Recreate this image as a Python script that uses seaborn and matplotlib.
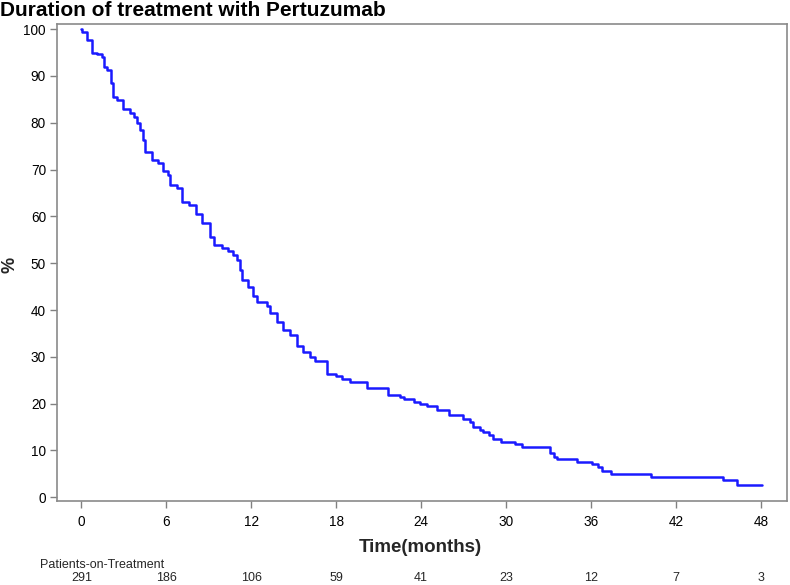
import matplotlib
matplotlib.use("Agg")
import matplotlib.pyplot as plt
import matplotlib.transforms as mtransforms
import seaborn as sns
import pandas as pd

# ---- data ----
times = [0, 0.05, 0.43, 0.73, 1.09, 1.44, 1.62, 1.79, 2.08, 2.2, 2.5, 2.97, 3.44,
         3.72, 3.91, 4.15, 4.34, 4.5, 4.97, 5.44, 5.79, 6.14, 6.26, 6.74, 7.09,
         7.6, 8.1, 8.55, 9.09, 9.37, 9.91, 10.38, 10.73, 10.97, 11.21, 11.33,
         11.79, 12.1, 12.39, 13.09, 13.33, 13.8, 14.27, 14.74, 15.21, 15.68,
         16.15, 16.5, 17.37, 17.99, 18.39, 18.97, 20.2, 21.64, 22.51, 22.8,
         23.5, 23.92, 24.44, 25.14, 25.99, 26.98, 27.45, 27.68, 28.16, 28.39,
         28.81, 29.1, 29.62, 30.63, 31.1, 33.1, 33.35, 33.6, 34.98, 36.1, 36.51,
         36.75, 37.4, 40.2, 45.3, 46.3, 48.05]
percent = [100, 99.4, 97.7, 94.9, 94.6, 94.0, 92.0, 91.3, 88.5, 85.5, 84.9, 82.9,
           82.0, 81.3, 79.9, 78.5, 76.3, 73.8, 72.0, 71.4, 69.6, 68.9, 66.7, 66.0,
           63.1, 62.4, 60.5, 58.5, 55.7, 53.9, 53.2, 52.5, 51.8, 50.7, 48.6, 46.4,
           45.0, 42.9, 41.8, 40.9, 39.3, 37.5, 35.7, 34.7, 32.4, 31.0, 29.9, 29.1,
           26.3, 25.9, 25.2, 24.7, 23.3, 21.9, 21.4, 20.9, 20.4, 19.9, 19.5, 18.7,
           17.5, 16.7, 16.0, 15.1, 14.4, 13.9, 13.3, 12.5, 11.9, 11.4, 10.8, 9.5,
           8.7, 8.2, 7.6, 7.1, 6.4, 5.7, 5.0, 4.4, 3.7, 2.6, 2.6]
xticks = [0, 6, 12, 18, 24, 30, 36, 42, 48]
yticks = [0, 10, 20, 30, 40, 50, 60, 70, 80, 90, 100]
at_risk = [291, 186, 106, 59, 41, 23, 12, 7, 3]

title = "Duration of treatment with Pertuzumab"
xlabel = "Time(months)"
ylabel = "%"
risk_label = "Patients-on-Treatment"

df = pd.DataFrame({"time": times, "pct": percent})

sns.set_theme(style="white")
plt.rcParams["font.family"] = ["Liberation Sans", "DejaVu Sans"]

W, H = 790, 585
fig = plt.figure(figsize=(W / 100, H / 100), dpi=100)
ax = fig.add_axes([57 / W, 1 - 501 / H, (787.3 - 57) / W, (501 - 24) / H])

sns.lineplot(data=df, x="time", y="pct", ax=ax, color="#1a1aff",
             linewidth=1.8, drawstyle="steps-post", estimator=None, sort=False)

ax.set_xlim(-1.72, 49.86)
ax.set_ylim(-0.8, 101.1)
ax.set_xticks(xticks)
ax.set_yticks(yticks)
ax.set_xticklabels([str(v) for v in xticks], fontsize=9.8, color="black")
ax.set_yticklabels([str(v) for v in yticks], fontsize=9.8, color="black")
ax.tick_params(axis="both", direction="out", length=5, width=1,
               color="#808080")
ax.tick_params(axis="x", bottom=True, pad=5)
ax.tick_params(axis="y", left=True, pad=3)
for s in ax.spines.values():
    s.set_color("#8a8a8a")
    s.set_linewidth(1.2)
    s.set_visible(True)

ax.set_xlabel("")
ax.set_ylabel("")

fig.text(0 / W, 1 - 11 / H, title, fontsize=15, fontweight="bold",
         ha="left", va="center", color="black")
fig.text(10 / W, 1 - 265 / H, ylabel, fontsize=13, fontweight="bold",
         rotation=90, ha="center", va="center")
fig.text(420 / W, 1 - 548 / H, xlabel, fontsize=13.5, fontweight="bold",
         ha="center", va="center")
fig.text(40 / W, 1 - 565 / H, risk_label, fontsize=9, ha="left", va="center")

trans = mtransforms.blended_transform_factory(ax.transData, fig.transFigure)
for t, n in zip(xticks, at_risk):
    ax.text(t, 1 - 578 / H, str(n), transform=trans, fontsize=9,
            ha="center", va="center", clip_on=False)

fig.savefig("out.png", dpi=100)
